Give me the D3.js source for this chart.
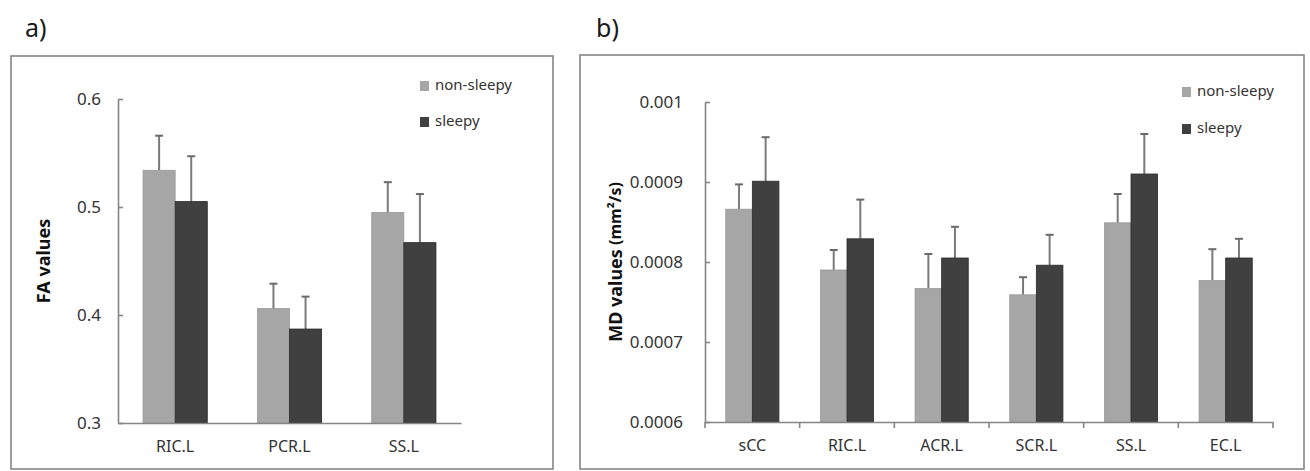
<!DOCTYPE html>
<html>
<head>
<meta charset="utf-8">
<script src="https://cdn.jsdelivr.net/npm/d3@7"></script>
<style>
  html, body { margin: 0; padding: 0; background: #fff; }
  svg { display: block; font-family: "Noto Sans", "Open Sans", sans-serif; }
</style>
</head>
<body>
<div id="chart"></div>
<script>
// FA / MD by tract, non-sleepy vs sleepy (mean + upper SD bar)
const seriesNames = ["non-sleepy", "sleepy"];
const seriesColors = ["#a6a6a6", "#404040"];

const faTracts = ["RIC.L", "PCR.L", "SS.L"];
const faNonSleepy = [0.534, 0.406, 0.495];
const faNonSleepyErr = [0.566, 0.429, 0.523];
const faSleepy = [0.505, 0.387, 0.467];
const faSleepyErr = [0.547, 0.417, 0.512];
const faTicks = [0.3, 0.4, 0.5, 0.6];

const mdTracts = ["sCC", "RIC.L", "ACR.L", "SCR.L", "SS.L", "EC.L"];
const mdNonSleepy = [0.000866, 0.000790, 0.000767, 0.000759, 0.000849, 0.000777];
const mdNonSleepyErr = [0.000897, 0.000815, 0.000810, 0.000781, 0.000885, 0.000816];
const mdSleepy = [0.000901, 0.000829, 0.000805, 0.000796, 0.000910, 0.000805];
const mdSleepyErr = [0.000956, 0.000878, 0.000844, 0.000834, 0.000960, 0.000829];
const mdTicks = [0.0006, 0.0007, 0.0008, 0.0009, 0.001];

const FONT = '"Noto Sans", "Open Sans", sans-serif';
const width = 1310, height = 471;
const svg = d3.select("#chart").append("svg")
  .attr("width", width)
  .attr("height", height);

function drawPanel(p) {
  const g = svg.append("g");

  // frame
  g.append("rect")
    .attr("x", p.frame[0]).attr("y", p.frame[1])
    .attr("width", p.frame[2] - p.frame[0])
    .attr("height", p.frame[3] - p.frame[1])
    .attr("fill", "none")
    .attr("stroke", "#858585")
    .attr("stroke-width", 1.6);

  // panel letter
  g.append("text")
    .attr("x", p.letterX).attr("y", 37)
    .style("font-size", "25px")
    .attr("fill", "#1a1a1a")
    .text(p.letter);

  const x0 = d3.scaleBand().domain(p.cats).range(p.xRange);
  const x1 = d3.scaleBand().domain(seriesNames)
    .range([0, x0.bandwidth()])
    .paddingInner(0).paddingOuter(0.78);
  const y = d3.scaleLinear().domain(p.yDomain).range(p.yRange);

  const rows = p.cats.map((c, i) => ({
    cat: c,
    vals: [
      { s: seriesNames[0], v: p.series[0][i], e: p.errs[0][i] },
      { s: seriesNames[1], v: p.series[1][i], e: p.errs[1][i] }
    ]
  }));

  // error bars (drawn first, bars sit on top)
  const groups = g.selectAll(".grp").data(rows).join("g")
    .attr("transform", d => `translate(${x0(d.cat)},0)`);

  groups.selectAll(".err").data(d => d.vals).join("g")
    .each(function(d) {
      const cx = x1(d.s) + x1.bandwidth() / 2;
      const e = d3.select(this);
      e.append("line")
        .attr("x1", cx).attr("x2", cx)
        .attr("y1", y(d.v)).attr("y2", y(d.e))
        .attr("stroke", "#7a7a7a").attr("stroke-width", 2);
      e.append("line")
        .attr("x1", cx - 4).attr("x2", cx + 4)
        .attr("y1", y(d.e)).attr("y2", y(d.e))
        .attr("stroke", "#6a6a6a").attr("stroke-width", 2);
    });

  groups.selectAll("rect").data(d => d.vals).join("rect")
    .attr("x", d => x1(d.s))
    .attr("y", d => y(d.v))
    .attr("width", x1.bandwidth())
    .attr("height", d => y(p.yDomain[0]) - y(d.v))
    .attr("fill", d => seriesColors[seriesNames.indexOf(d.s)])
    .attr("stroke", d => d.s === "sleepy" ? "#2b2b2b" : "#9a9a9a")
    .attr("stroke-width", 0.8);

  // y axis, ticks inside
  const yAxis = g.append("g")
    .attr("transform", `translate(${p.xRange[0]},0)`)
    .call(d3.axisLeft(y).tickValues(p.ticks).tickFormat(p.fmt)
      .tickSize(-5).tickSizeOuter(0).tickPadding(p.tickPad))
    .attr("font-family", FONT);
  yAxis.select(".domain").attr("stroke", "#858585").attr("stroke-width", 1.6);
  yAxis.selectAll(".tick line").attr("stroke", "#858585").attr("stroke-width", 1.6);
  yAxis.selectAll("text").style("font-size", "17px").attr("fill", "#333");

  // x axis
  const xAxis = g.append("g")
    .attr("transform", `translate(0,${p.yRange[0]})`)
    .call(d3.axisBottom(x0).tickSize(0).tickSizeOuter(0).tickPadding(18))
    .attr("font-family", FONT);
  xAxis.select(".domain").attr("stroke", "#858585").attr("stroke-width", 1.6);
  xAxis.selectAll("text").style("font-size", "16px").attr("fill", "#333");

  if (p.boundaryTicks) {
    const bounds = p.cats.map(c => x0(c)).concat([p.xRange[1]]);
    g.selectAll(".bt").data(bounds).join("line")
      .attr("x1", d => d).attr("x2", d => d)
      .attr("y1", p.yRange[0]).attr("y2", p.yRange[0] + 6)
      .attr("stroke", "#858585").attr("stroke-width", 1.6);
  }

  // y label
  const yl = g.append("text")
    .attr("transform", `translate(${p.labelX},${(p.yRange[0] + p.yRange[1]) / 2}) rotate(-90)`)
    .attr("text-anchor", "middle")
    .attr("dominant-baseline", "middle")
    .style("font-size", "18px")
    .style("font-weight", "bold")
    .attr("fill", "#111");
  yl.append("tspan").text(p.label);
  if (p.unit) yl.append("tspan").style("font-size", "16px").text(" " + p.unit);

  // legend
  seriesNames.forEach((s, i) => {
    const ly = p.legend[1] + i * p.legendGap;
    g.append("rect")
      .attr("x", p.legend[0]).attr("y", ly - 5)
      .attr("width", 9).attr("height", 10)
      .attr("fill", seriesColors[i]);
    g.append("text")
      .attr("x", p.legend[0] + 15).attr("y", ly)
      .attr("dominant-baseline", "middle")
      .style("font-size", "15px")
      .attr("fill", "#333")
      .text(s);
  });
}

drawPanel({
  letter: "a)", letterX: 25,
  frame: [11, 56, 553, 469],
  cats: faTracts,
  series: [faNonSleepy, faSleepy],
  errs: [faNonSleepyErr, faSleepyErr],
  xRange: [118, 461],
  yDomain: [0.3, 0.6], yRange: [423, 99],
  ticks: faTicks, fmt: d3.format(".1f"), tickPad: 17,
  boundaryTicks: false,
  label: "FA values", unit: null, labelX: 45,
  legend: [420, 86], legendGap: 36
});

drawPanel({
  letter: "b)", letterX: 596,
  frame: [580, 55, 1304, 469],
  cats: mdTracts,
  series: [mdNonSleepy, mdSleepy],
  errs: [mdNonSleepyErr, mdSleepyErr],
  xRange: [705, 1273],
  yDomain: [0.0006, 0.001], yRange: [422, 102],
  ticks: mdTicks, fmt: d => String(+d.toFixed(4)), tickPad: 22,
  boundaryTicks: true,
  label: "MD values", unit: "(mm²/s)", labelX: 617,
  legend: [1182, 92], legendGap: 37
});
</script>
</body>
</html>
